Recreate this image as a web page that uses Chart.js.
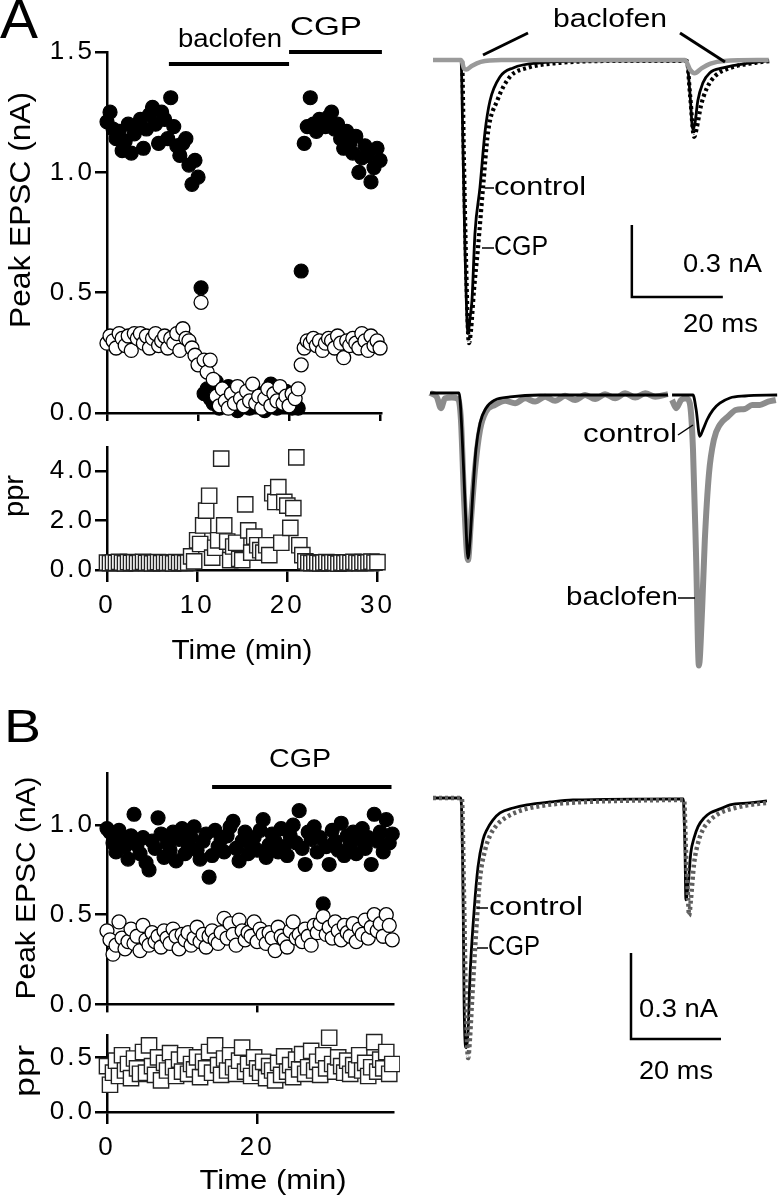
<!DOCTYPE html>
<html>
<head>
<meta charset="utf-8">
<script src="https://cdn.jsdelivr.net/npm/chart.js@4.4.1/dist/chart.umd.min.js"></script>
<style>
  html, body { margin: 0; padding: 0; background: #fff; }
  #fig { position: relative; width: 778px; height: 1199px; overflow: hidden; }
  canvas { position: absolute; }
</style>
</head>
<body>
<div id="fig">
  <canvas id="aPeak" width="400" height="430" style="left:0;top:0"></canvas>
  <canvas id="aPpr" width="400" height="250" style="left:0;top:430px"></canvas>
  <canvas id="bPeak" width="400" height="340" style="left:0;top:680px"></canvas>
  <canvas id="bPpr" width="400" height="179" style="left:0;top:1020px"></canvas>
  <canvas id="aTrace1" width="378" height="350" style="left:400px;top:0"></canvas>
  <canvas id="aTrace2" width="378" height="330" style="left:400px;top:350px"></canvas>
  <canvas id="bTrace" width="378" height="420" style="left:400px;top:680px"></canvas>
</div>
<script>
// ---- panel A time course (one sweep every 20 s) ----
var sweepMinA = 1 / 3;
var peak1A = [1.21, 1.25, 1.18, 1.14, 1.17, 1.09, 1.13, 1.20, 1.08, 1.16,
  1.19, 1.22, 1.10, 1.18, 1.24, 1.27, 1.20, 1.12, 1.25, 1.22,
  1.14, 1.31, 1.19, 1.11, 1.07, 1.12, 1.14, 1.03, 0.95, 1.05,
  0.98, 0.52,
  0.08, 0.10, 0.06, 0.04, 0.13, 0.02, 0.07, 0.05, 0.11, 0.03, 0.06, 0.01, 0.09, 0.04, 0.07, 0.02,
  0.10, 0.05, 0.03, 0.08, 0.01, 0.06, 0.12, 0.04, 0.02, 0.07, 0.03, 0.09, 0.05, 0.02, 0.04,
  0.02, 0.59,
  1.12, 1.19, 1.31, 1.20, 1.17, 1.22, 1.21, 1.19, 1.23, 1.25,
  1.18, 1.20, 1.14, 1.10, 1.17, 1.12, 1.08, 1.15, 1.00, 1.06,
  1.11, 1.07, 0.96, 1.02, 1.10, 1.05];
var peak2A = [0.29, 0.32, 0.30, 0.27, 0.33, 0.31, 0.28, 0.32, 0.26, 0.33,
  0.31, 0.33, 0.29, 0.32, 0.27, 0.31, 0.33, 0.28, 0.30, 0.32,
  0.27, 0.31, 0.29, 0.33, 0.26, 0.35, 0.31, 0.30, 0.27, 0.24,
  0.20, 0.46,
  0.22, 0.17, 0.22, 0.14, 0.07, 0.03, 0.10, 0.05, 0.02, 0.08, 0.04, 0.11, 0.06, 0.03, 0.09, 0.05,
  0.12, 0.04, 0.07, 0.02, 0.06, 0.10, 0.03, 0.08, 0.05, 0.11, 0.04, 0.07, 0.03, 0.08, 0.06,
  0.10, 0.20,
  0.27, 0.30, 0.29, 0.31, 0.28, 0.30, 0.26, 0.29, 0.31, 0.30,
  0.27, 0.32, 0.29, 0.23, 0.30, 0.28, 0.31, 0.29, 0.27, 0.33,
  0.30, 0.26, 0.32, 0.28, 0.30, 0.27];
var pprA = [0.30, 0.28, 0.31, 0.29, 0.33, 0.30, 0.27, 0.32, 0.29, 0.31,
  0.28, 0.30, 0.33, 0.29, 0.31, 0.27, 0.30, 0.32, 0.28, 0.31,
  0.29, 0.30, 0.27, 0.32, 0.29, 0.31, 0.28, 0.30, 0.55, 0.35,
  1.20, 1.05, 1.80, 2.40, 3.00, 0.50, 0.90, 1.20, 4.50, 1.80,
  1.15, 0.40, 0.95, 1.10, 0.45, 0.40, 2.65, 1.60, 0.70, 1.35,
  1.00, 0.80, 0.70, 1.00, 0.60, 3.10, 2.75, 3.35, 1.10, 2.75,
  2.60, 1.70, 2.50, 4.55, 1.00, 0.60, 0.35,
  0.30, 0.28, 0.31, 0.29, 0.27, 0.30, 0.32, 0.28, 0.31, 0.29,
  0.26, 0.30, 0.28, 0.31, 0.29, 0.33, 0.30, 0.28, 0.32, 0.29,
  0.31, 0.34, 0.30, 0.32];
var drugsA = [['baclofen', 6.8, 20.0], ['CGP', 20.0, 30.2]];

// ---- panel B time course (one sweep every 24 s) ----
var sweepMinB = 0.4;
var peak1B = [0.98, 0.96, 0.90, 0.85, 0.97, 0.92, 0.88, 0.81, 0.94, 1.06,
  0.89, 0.84, 0.93, 0.79, 0.75, 0.91, 0.87, 1.04, 0.95, 0.82,
  0.90, 0.86, 0.96, 0.80, 0.92, 0.98, 0.84, 0.89, 0.93, 0.99,
  0.86, 0.81, 0.91, 0.95, 0.71, 0.83, 0.97, 0.88, 0.92, 0.85,
  0.94, 0.99, 1.02, 0.87, 0.80, 0.91, 0.96, 0.84, 0.90, 0.93,
  0.86, 0.97, 1.03, 0.82, 0.89, 0.95, 0.91, 0.85, 0.98, 0.88,
  0.83, 0.94, 1.00, 0.90, 1.08, 0.87, 0.78, 0.96, 0.92, 0.99,
  0.85, 0.93, 0.56, 0.88, 0.78, 0.97, 0.91, 0.86, 1.01, 0.83,
  0.94, 0.89, 0.96, 0.84, 0.92, 0.98, 0.87, 0.93, 0.78, 1.06,
  0.91, 0.96, 0.85, 1.03, 0.90, 0.95];
var peak2B = [0.41, 0.36, 0.28, 0.33, 0.46, 0.37, 0.31, 0.35, 0.42, 0.34,
  0.38, 0.30, 0.44, 0.36, 0.33, 0.40, 0.35, 0.38, 0.32, 0.41,
  0.37, 0.34, 0.42, 0.38, 0.31, 0.39, 0.36, 0.40, 0.33, 0.37,
  0.43, 0.35, 0.39, 0.32, 0.38, 0.41, 0.36, 0.34, 0.40, 0.48,
  0.37, 0.45, 0.39, 0.33, 0.47, 0.41, 0.36, 0.40, 0.38, 0.46,
  0.35, 0.42, 0.39, 0.34, 0.40, 0.37, 0.30, 0.43, 0.38, 0.36,
  0.32, 0.41, 0.46, 0.37, 0.39, 0.35, 0.42, 0.38, 0.33, 0.44,
  0.40, 0.45, 0.49, 0.39, 0.43, 0.37, 0.46, 0.41, 0.36, 0.44,
  0.40, 0.38, 0.45, 0.35, 0.42, 0.39, 0.47, 0.37, 0.43, 0.50,
  0.41, 0.45, 0.38, 0.50, 0.44, 0.36];
var pprB = [0.42, 0.25, 0.36, 0.47, 0.33, 0.52, 0.38, 0.44, 0.31, 0.49,
  0.40, 0.35, 0.55, 0.36, 0.61, 0.42, 0.34, 0.50, 0.29, 0.45,
  0.38, 0.54, 0.41, 0.33, 0.48, 0.37, 0.52, 0.35, 0.44, 0.39,
  0.50, 0.32, 0.46, 0.40, 0.55, 0.36, 0.61, 0.43, 0.34, 0.49,
  0.38, 0.52, 0.41, 0.35, 0.47, 0.59, 0.37, 0.44, 0.33, 0.50,
  0.40, 0.36, 0.46, 0.31, 0.42, 0.38, 0.29, 0.45, 0.34, 0.51,
  0.37, 0.43, 0.32, 0.48, 0.39, 0.53, 0.35, 0.41, 0.56, 0.38,
  0.46, 0.34, 0.52, 0.40, 0.68, 0.44, 0.37, 0.50, 0.42, 0.36,
  0.47, 0.35, 0.43, 0.39, 0.52, 0.38, 0.45, 0.33, 0.41, 0.64,
  0.37, 0.48, 0.40, 0.55, 0.35, 0.44];
var drugsB = [['CGP', 14.0, 37.9]];

// tick values
var peakTicksA = [0, 0.5, 1.0, 1.5];
var pprTicksA = [0, 2, 4];
var timeTicksA = [0, 10, 20, 30];
var peakTicksB = [0, 0.5, 1.0];
var pprTicksB = [0, 0.5];
var timeTicksB = [0, 20];

// ---- example traces, A top (ms, nA) ----
var ctlTimeA = [0, 6.15, 6.6, 7.03, 7.7, 8.13, 8.57, 9.23, 10.33, 11.43, 12.53, 14.73, 17.6, 23.5, 36.7, 55.4,
  55.8, 56.5, 57.1, 57.6, 58.2, 59.3, 60.8, 63.7, 69.7, 73.6];
var ctlCurrA = [0, 0, -0.375, -0.79, -1.14, -1.075, -1.0, -0.72, -0.53, -0.30, -0.17, -0.07, -0.033, -0.012, -0.004, -0.004,
  -0.008, -0.146, -0.29, -0.26, -0.17, -0.096, -0.054, -0.033, -0.012, -0.004];
var cgpTimeA = [0, 6.37, 6.8, 7.25, 7.9, 8.35, 9.0, 9.9, 11.0, 12.1, 14.1, 16.9, 20.7, 27.9, 41.1, 55.8,
  56.5, 57.4, 58.0, 58.9, 60.2, 62.0, 65.3, 70.8, 74.1];
var cgpCurrA = [0, 0, -0.42, -0.83, -1.18, -1.125, -0.96, -0.78, -0.53, -0.30, -0.17, -0.07, -0.033, -0.012, -0.004, -0.004,
  -0.146, -0.32, -0.28, -0.19, -0.117, -0.067, -0.033, -0.012, -0.004];
var bacTimeA = [0, 6.2, 6.8, 7.3, 8.5, 10.5, 15, 55.4, 56.5, 57.5, 59, 61, 64, 73.8];
var bacCurrA = [0, 0, -0.035, -0.04, -0.025, -0.008, 0, 0, -0.04, -0.055, -0.035, -0.015, -0.004, 0];

// ---- example traces, A bottom (normalised to first control EPSC) ----
var ctlTimeA2 = [0, 6.4, 7.0, 7.7, 8.35, 8.8, 9.45, 10.1, 11.0, 12.3, 14.3, 17.6, 24.2, 52.3, 52.8,
  53.2, 57.8, 58.5, 59.3, 60.0, 60.9, 62.2, 63.7, 65.9, 69.2, 76.3];
var ctlCurrA2 = [0.012, 0.012, -0.21, -0.65, -0.99, -0.88, -0.58, -0.33, -0.17, -0.08, -0.03, -0.012, 0, 0, null,
  0, 0, -0.09, -0.25, -0.21, -0.15, -0.09, -0.05, -0.018, -0.006, 0];
var bacTimeA2 = [0, 1.5, 2.4, 3.3, 4.8, 6.2, 6.8, 7.5, 8.35, 9.0, 9.9, 11.0, 12.3, 14.3, 16.5, 18.7, 20.9, 23.1,
  25.3, 27.5, 29.7, 31.9, 34.1, 36.3, 38.5, 40.7, 42.9, 45.1, 47.3, 49.5, 52.3, 52.8,
  53.2, 54.1, 55.2, 56.3, 57.1, 57.8, 58.5, 59.1, 59.8, 60.4, 61.3, 62.4, 63.7, 65.5, 67.3, 69.2, 70.8, 72.5, 74.3, 76.0];
var bacCurrA2 = [0.012, -0.012, -0.08, -0.02, -0.015, -0.025, -0.15, -0.64, -1.0, -0.76, -0.45, -0.21, -0.10, -0.06, -0.035, -0.05, -0.02, -0.04,
  -0.01, -0.035, -0.005, -0.03, 0, -0.025, 0.005, -0.02, 0.01, -0.015, 0.01, -0.01, 0.005, null,
  -0.03, -0.08, -0.03, -0.02, -0.05, -0.33, -1.0, -1.64, -1.30, -0.88, -0.48, -0.27, -0.18, -0.13, -0.09, -0.085, -0.06, -0.06, -0.04, -0.03];

// ---- example traces, B (ms, nA) ----
var ctlTimeB = [0, 6.2, 6.7, 6.9, 7.3, 7.8, 8.2, 9.1, 10.0, 11.1, 12.0, 13.3, 14.9, 17.8, 20.9, 26.0, 31.1, 55.6,
  56.0, 56.2, 56.7, 57.3, 58.0, 58.9, 60.2, 61.6, 63.8, 66.0, 70.4, 74.2];
var ctlCurrB = [0, 0, -0.355, -0.70, -0.87, -0.81, -0.63, -0.40, -0.24, -0.146, -0.11, -0.077, -0.052, -0.035, -0.024, -0.014, -0.007, -0.003,
  -0.18, -0.355, -0.30, -0.19, -0.14, -0.10, -0.07, -0.052, -0.038, -0.024, -0.017, -0.01];
var cgpTimeB = [0, 6.4, 6.9, 7.3, 7.8, 8.2, 8.7, 9.6, 10.4, 11.6, 12.7, 14.2, 16.0, 19.3, 23.8, 30.4, 41.6, 55.8,
  56.2, 56.7, 56.9, 57.3, 58.0, 58.9, 60.0, 61.6, 63.8, 67.1, 70.4, 74.4];
var cgpCurrB = [0, 0, -0.355, -0.70, -0.906, -0.84, -0.70, -0.46, -0.286, -0.18, -0.13, -0.094, -0.07, -0.045, -0.028, -0.017, -0.01, -0.007,
  -0.18, -0.355, -0.41, -0.355, -0.23, -0.157, -0.11, -0.077, -0.052, -0.035, -0.024, -0.017];

var FONT = '"Liberation Sans", Arial, Helvetica, sans-serif';
Chart.defaults.font.family = FONT;
Chart.defaults.color = '#000';

function drawLabel(ctx, t) {
  ctx.save();
  ctx.letterSpacing = '0px';
  ctx.font = t.size + 'px ' + FONT;
  var natural = ctx.measureText(t.text).width;
  var sx = t.width ? t.width / natural : 1;
  ctx.translate(t.x, t.y);
  if (t.rotate) ctx.rotate(-Math.PI / 2);
  ctx.scale(sx, 1);
  ctx.textAlign = t.align || 'center';
  ctx.textBaseline = 'middle';
  ctx.fillStyle = '#000';
  ctx.fillText(t.text, 0, 0);
  ctx.restore();
}

// bars, scale bars, connector lines and labels on top of a chart
function annotator(spec) {
  return {
    id: 'annot',
    beforeDraw: function(chart) { chart.ctx.letterSpacing = '3px'; },
    afterDraw: function(chart) {
      var ctx = chart.ctx, xs = chart.scales.x, ys = chart.scales.y;
      ctx.save();
      ctx.letterSpacing = '0px';
      ctx.strokeStyle = '#000';
      ctx.lineCap = 'butt';
      (spec.bars || []).forEach(function(b) {
        ctx.lineWidth = 4;
        ctx.beginPath();
        ctx.moveTo(xs.getPixelForValue(b.from), b.y);
        ctx.lineTo(xs.getPixelForValue(b.to), b.y);
        ctx.stroke();
      });
      if (spec.scaleBar) {
        var s = spec.scaleBar;
        var x0 = xs.getPixelForValue(s.t), y0 = ys.getPixelForValue(s.v);
        var x1 = xs.getPixelForValue(s.t + s.dt), y1 = ys.getPixelForValue(s.v + s.dv);
        ctx.lineWidth = 2.5;
        ctx.beginPath();
        ctx.moveTo(x0, y1); ctx.lineTo(x0, y0); ctx.lineTo(x1, y0);
        ctx.stroke();
      }
      (spec.lines || []).forEach(function(l) {
        ctx.lineWidth = l[4] || 1.5;
        ctx.beginPath();
        ctx.moveTo(l[0], l[1]);
        ctx.lineTo(l[2], l[3]);
        ctx.stroke();
      });
      (spec.texts || []).forEach(function(t) { drawLabel(ctx, t); });
      ctx.restore();
    }
  };
}

function fixedTicks(list) {
  return function(scale) { scale.ticks = list.map(function(v) { return { value: v }; }); };
}

function axis(min, max, ticks, tickLen, fit, showLabels, fmt, pad) {
  return {
    type: 'linear', min: min, max: max,
    afterBuildTicks: fixedTicks(ticks),
    afterFit: fit,
    grid: { drawOnChartArea: false, drawTicks: true, tickLength: tickLen, tickWidth: 2.5, tickColor: '#000', color: '#000', lineWidth: 2.5 },
    border: { display: true, color: '#000', width: 2.5 },
    ticks: { display: showLabels, autoSkip: false, maxRotation: 0, padding: pad, color: '#000', font: { size: 26 },
      callback: fmt }
  };
}

function oneDecimal(v) { return Number(v).toFixed(1); }
function plain(v) { return String(v); }

function series(times, values, style) {
  var ds = { data: times.map(function(t, i) { return { x: t, y: values[i] }; }), clip: false, showLine: false };
  for (var k in style) ds[k] = style[k];
  return ds;
}
function timesFor(values, step) { return values.map(function(_, i) { return i * step; }); }

var filledDot = { pointStyle: 'circle', pointRadius: 7, pointBorderWidth: 1.2, pointBackgroundColor: '#000', pointBorderColor: '#000', backgroundColor: '#000', borderColor: '#000' };
var openDot = { pointStyle: 'circle', pointRadius: 7, pointBorderWidth: 1.3, pointBackgroundColor: '#fff', pointBorderColor: '#000', backgroundColor: '#fff', borderColor: '#000' };
var openSquare = { pointStyle: 'rect', pointRadius: 10.8, pointBorderWidth: 1.4, pointBackgroundColor: '#fff', pointBorderColor: '#222', backgroundColor: '#fff', borderColor: '#222' };

function scatterChart(id, datasets, xAxis, yAxis, padding, spec) {
  return new Chart(document.getElementById(id), {
    type: 'scatter',
    data: { datasets: datasets },
    options: {
      responsive: false, animation: false, events: [],
      layout: { padding: padding, autoPadding: false },
      plugins: { legend: { display: false }, tooltip: { enabled: false } },
      scales: { x: xAxis, y: yAxis }
    },
    plugins: [annotator(spec)]
  });
}

function yFit(w) { return function(s) { s.width = w; }; }
function xFit(h) { return function(s) { s.height = h; }; }

var timeA = timesFor(peak1A, sweepMinA);
var timeB = timesFor(peak1B, sweepMinB);

// A: peak EPSC
scatterChart('aPeak',
  [series(timeA, peak2A, openDot), series(timeA, peak1A, filledDot)],
  axis(0, 30.1, timeTicksA, 8, xFit(17), false, plain, 0),
  axis(0, 1.5, peakTicksA, 12, yFit(107), true, oneDecimal, 0),
  { left: 0, right: 19, top: 52, bottom: 0 },
  {
    bars: [{ from: drugsA[0][1], to: drugsA[0][2], y: 64 }, { from: drugsA[1][1], to: drugsA[1][2], y: 52 }],
    texts: [
      { text: 'A', x: 0, y: 23, size: 56, width: 38, align: 'left' },
      { text: 'Peak EPSC (nA)', x: 22, y: 210, size: 29, width: 236, rotate: true },
      { text: drugsA[0][0], x: 230, y: 40, size: 25, width: 104 },
      { text: drugsA[1][0], x: 326, y: 28, size: 26, width: 72 }
    ]
  });

// A: paired-pulse ratio
scatterChart('aPpr',
  [series(timeA, pprA, openSquare)],
  axis(0, 30.1, timeTicksA, 12, xFit(110), true, plain, 8),
  axis(0, 4.97, pprTicksA, 12, yFit(107), true, oneDecimal, 0),
  { left: 0, right: 19, top: 17, bottom: 0 },
  {
    texts: [
      { text: 'ppr', x: 16, y: 66, size: 27, width: 42, rotate: true },
      { text: 'Time (min)', x: 242, y: 222, size: 27, width: 141 }
    ]
  });

// B: peak EPSC
scatterChart('bPeak',
  [series(timeB, peak2B, openDot), series(timeB, peak1B, filledDot)],
  axis(0, 38.1, timeTicksB, 8, xFit(7), false, plain, 0),
  axis(0, 1.29, peakTicksB, 12, yFit(107), true, oneDecimal, 0),
  { left: 0, right: 7, top: 93, bottom: 0 },
  {
    bars: [{ from: drugsB[0][1], to: drugsB[0][2], y: 107 }],
    texts: [
      { text: 'B', x: 4, y: 49, size: 47, width: 37, align: 'left' },
      { text: 'Peak EPSC (nA)', x: 27, y: 208, size: 28, width: 223, rotate: true },
      { text: drugsB[0][0], x: 300, y: 80, size: 25, width: 62 }
    ]
  });

// B: paired-pulse ratio
scatterChart('bPpr',
  [series(timeB, pprB, openSquare)],
  axis(0, 38.1, timeTicksB, 12, xFit(87), true, plain, 8),
  axis(0, 0.7, pprTicksB, 12, yFit(107), true, oneDecimal, 0),
  { left: 0, right: 7, top: 15, bottom: 0 },
  {
    texts: [
      { text: 'ppr', x: 26, y: 51, size: 28, width: 52, rotate: true },
      { text: 'Time (min)', x: 273, y: 162, size: 27, width: 147 }
    ]
  });

// ---- traces ----
function trace(times, values, color, width, dash) {
  return {
    data: times.map(function(t, i) { return { x: t, y: values[i] }; }),
    borderColor: color, borderWidth: width, borderDash: dash || [],
    pointRadius: 0, spanGaps: false, clip: false, fill: false,
    cubicInterpolationMode: 'monotone', borderJoinStyle: 'round'
  };
}

function traceChart(id, range, datasets, spec) {
  return new Chart(document.getElementById(id), {
    type: 'line',
    data: { datasets: datasets },
    options: {
      responsive: false, animation: false, events: [],
      layout: { padding: 0, autoPadding: false },
      plugins: { legend: { display: false }, tooltip: { enabled: false } },
      scales: {
        x: { type: 'linear', display: false, min: range[0], max: range[1] },
        y: { type: 'linear', display: false, min: range[2], max: range[3] }
      }
    },
    plugins: [annotator(spec)]
  });
}

traceChart('aTrace1', [-7.253, 75.824, -1.2083, 0.25], [
  trace(bacTimeA, bacCurrA, '#9a9a9a', 4.5),
  trace(ctlTimeA, ctlCurrA, '#000', 2.8),
  trace(cgpTimeA, cgpCurrA, '#000', 4.2, [3, 3])
], {
  scaleBar: { t: 43.7, v: -0.9875, dt: 20, dv: 0.3 },
  lines: [[83, 55, 128, 33, 3], [280, 33, 325, 62, 3], [85, 188, 94, 188], [82, 248, 94, 248]],
  texts: [
    { text: 'baclofen', x: 210, y: 20, size: 25, width: 114 },
    { text: 'control', x: 94, y: 188, size: 25, width: 92, align: 'left' },
    { text: 'CGP', x: 94, y: 248, size: 27, width: 54, align: 'left' },
    { text: '0.3 nA', x: 283, y: 265, size: 25, width: 79, align: 'left' },
    { text: '20 ms', x: 283, y: 325, size: 25, width: 75, align: 'left' }
  ]
});

traceChart('aTrace2', [-6.593, 76.484, -1.7273, 0.2727], [
  trace(ctlTimeA2, ctlCurrA2, '#000', 2.8),
  trace(bacTimeA2, bacCurrA2, '#8c8c8c', 6)
], {
  lines: [[278, 85, 293, 75], [278, 248, 295, 248]],
  texts: [
    { text: 'control', x: 277, y: 85, size: 25, width: 94, align: 'right' },
    { text: 'baclofen', x: 278, y: 248, size: 25, width: 112, align: 'right' }
  ]
});

traceChart('bTrace', [-7.333, 76.667, -1.0523, 0.4111], [
  trace(cgpTimeB, cgpCurrB, '#5e5e5e', 4.5, [3, 3]),
  trace(ctlTimeB, ctlCurrB, '#000', 2.8)
], {
  scaleBar: { t: 44, v: -0.84, dt: 20, dv: 0.3 },
  lines: [[77, 228, 88, 228], [77, 268, 88, 268]],
  texts: [
    { text: 'control', x: 89, y: 228, size: 25, width: 94, align: 'left' },
    { text: 'CGP', x: 88, y: 268, size: 27, width: 52, align: 'left' },
    { text: '0.3 nA', x: 239, y: 330, size: 25, width: 79, align: 'left' },
    { text: '20 ms', x: 239, y: 392, size: 25, width: 74, align: 'left' }
  ]
});
</script>
</body>
</html>
